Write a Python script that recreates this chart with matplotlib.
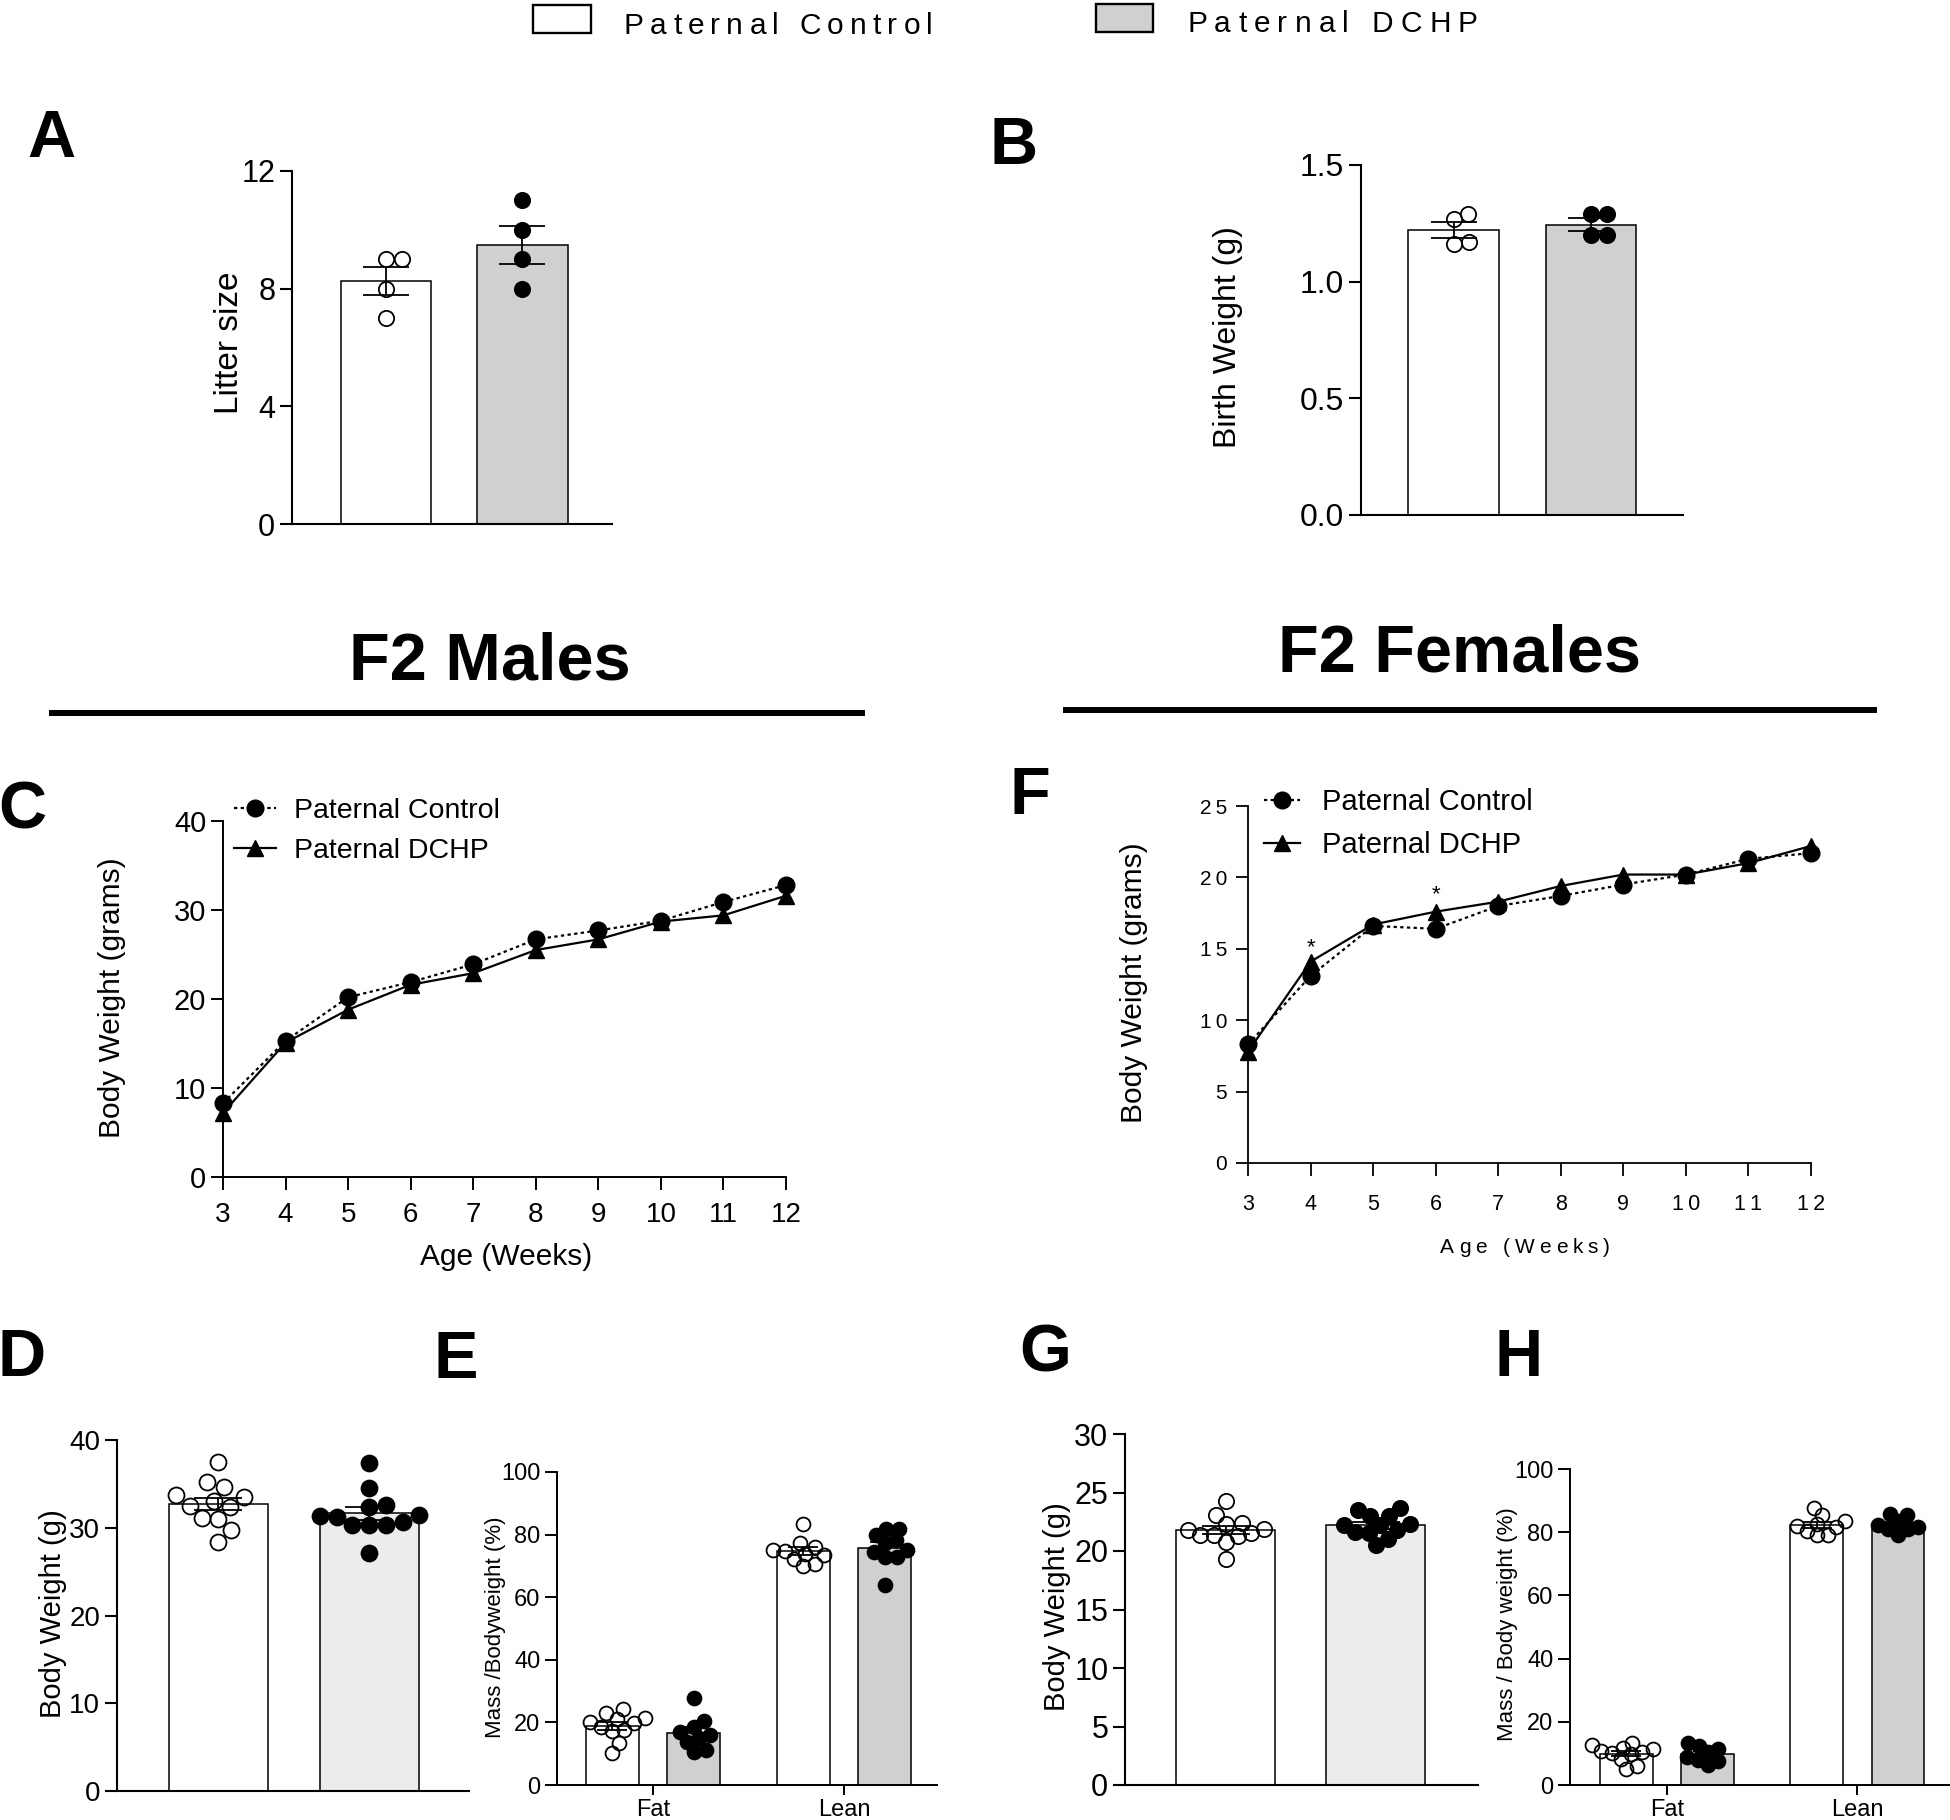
import matplotlib
matplotlib.use("Agg")
import matplotlib.pyplot as plt
from matplotlib.lines import Line2D
from matplotlib.patches import Rectangle
import numpy as np

plt.rcParams['font.family'] = ['Liberation Sans', 'DejaVu Sans']

# ---- data ----
groups = ["Paternal Control", "Paternal DCHP"]

# A: litter size
litter_ctrl = [9, 9, 8, 7]
litter_dchp = [11, 10, 9, 8]

# B: birth weight (g)
birth_ctrl = [1.29, 1.27, 1.17, 1.16]
birth_dchp = [1.29, 1.29, 1.20, 1.20]

# C / F: body weight curves
weeks = [3, 4, 5, 6, 7, 8, 9, 10, 11, 12]
male_ctrl = [8.3, 15.3, 20.2, 21.9, 23.9, 26.7, 27.7, 28.8, 30.9, 32.8]
male_dchp = [7.2, 15.1, 18.8, 21.6, 22.9, 25.5, 26.7, 28.7, 29.4, 31.6]
female_ctrl = [8.3, 13.1, 16.6, 16.4, 18.0, 18.7, 19.5, 20.2, 21.3, 21.7]
female_dchp = [7.8, 14.1, 16.7, 17.6, 18.3, 19.4, 20.2, 20.2, 21.0, 22.2]
star_weeks = [4, 6]
star_y = [15.6, 19.3]

# D / G: final body weight
d_ctrl = [37.5, 35.2, 34.6, 33.5, 33.7, 32.4, 33.0, 32.5, 31.1, 31.0, 29.7, 28.4]
d_dchp = [37.4, 34.5, 32.6, 32.4, 31.3, 31.2, 31.4, 30.7, 30.3, 30.3, 30.3, 27.1]
g_ctrl = [24.3, 23.1, 22.4, 22.3, 21.9, 21.8, 21.5, 21.4, 21.4, 21.3, 20.8, 19.3]
g_dchp = [23.7, 23.5, 23.0, 23.0, 22.3, 22.2, 22.2, 21.8, 21.6, 21.5, 21.0, 20.5]

# E / H: fat and lean mass (% body weight)
comp_labels = ["Fat", "Lean"]
e_fat_ctrl = [24.2, 22.9, 21.3, 21.0, 19.7, 18.6, 20.2, 17.4, 17.6, 13.3, 10.1]
e_fat_dchp = [27.9, 20.4, 18.6, 16.8, 16.0, 14.9, 13.8, 10.6, 11.2]
e_lean_ctrl = [83.3, 77.4, 76.1, 75.0, 74.8, 73.9, 73.4, 72.3, 70.7, 69.9]
e_lean_dchp = [81.9, 81.7, 79.8, 78.2, 77.3, 75.0, 74.5, 72.9, 72.7, 63.8]
h_fat_ctrl = [13.3, 12.6, 11.8, 11.5, 10.9, 10.5, 10.0, 9.7, 8.2, 6.0, 5.1]
h_fat_dchp = [13.2, 12.3, 11.4, 10.3, 9.0, 7.8, 7.6, 6.2]
h_lean_ctrl = [87.7, 85.6, 83.5, 82.6, 82.0, 81.5, 80.5, 79.2, 79.0]
h_lean_dchp = [85.9, 85.3, 83.5, 82.3, 81.5, 80.9, 80.9, 79.2]

GRAY = '#d0d0d0'
LIGHT = '#ececec'

W, H = 1950, 1820
fig = plt.figure(figsize=(W / 100, H / 100), dpi=100)


def make_ax(x0, x1, ytop, ybot):
    return fig.add_axes([x0 / W, 1 - ybot / H, (x1 - x0) / W, (ybot - ytop) / H])


def style(ax, lw=1.5):
    for s in ['top', 'right']:
        ax.spines[s].set_visible(False)
    for s in ['left', 'bottom']:
        ax.spines[s].set_linewidth(lw)
    ax.tick_params(direction='out', width=lw, length=9, pad=3, colors='black')


def put(xc, yc, s, size, **kw):
    # yc = vertical centre of capitals, in image pixels from the top
    base = yc + 0.358 * size * 100 / 72
    fig.text(xc / W, 1 - base / H, s, fontsize=size, ha='center', va='baseline', **kw)


def spaced(xl, xr, yc, s, size):
    # letter-spaced text filling xl..xr
    r = fig.canvas.get_renderer()
    sz = size * 100 / 72
    objs, widths = [], []
    for ch in s:
        if ch == ' ':
            objs.append(None)
            widths.append(0.278 * sz)
        else:
            t = fig.text(0, 0, ch, fontsize=size, ha='left', va='baseline')
            widths.append(t.get_window_extent(r).width)
            objs.append(t)
    gap = ((xr - xl) - sum(widths)) / (len(s) - 1)
    x = xl
    base = yc + 0.358 * sz
    for t, w in zip(objs, widths):
        if t is not None:
            t.set_position((x / W, 1 - base / H))
        x += w + gap


def swarm(ypx, d):
    order = np.argsort(ypx)
    placed = []
    xs = np.zeros(len(ypx))
    for i in order:
        y = ypx[i]
        cands = [0.0]
        for px, py in placed:
            dy = y - py
            if abs(dy) < d:
                dx = np.sqrt(d * d - dy * dy)
                cands += [px + dx, px - dx]
        cands.sort(key=abs)
        for c in cands:
            if all((c - px) ** 2 + (y - py) ** 2 >= d * d - 1e-6 for px, py in placed):
                xs[i] = c
                placed.append((c, y))
                break
    return xs


def label_coords(ax, xc, yc, which):
    pos = ax.get_position()
    x0, x1 = pos.x0 * W, pos.x1 * W
    ytop, ybot = (1 - pos.y1) * H, (1 - pos.y0) * H
    ax_x = (xc - x0) / (x1 - x0)
    ax_y = (ybot - yc) / (ybot - ytop)
    if which == 'y':
        ax.yaxis.set_label_coords(ax_x, ax_y)
    else:
        ax.xaxis.set_label_coords(ax_x, ax_y)


def bar_panel(ax, xpos, sets, fills, xlim, ylim, width, ms, capsize, spacing):
    ax.set_xlim(xlim)
    ax.set_ylim(ylim)
    pos = ax.get_position()
    xppu = pos.width * W / (xlim[1] - xlim[0])
    yppu = pos.height * H / (ylim[1] - ylim[0])
    for k, (x, vals, fill) in enumerate(zip(xpos, sets, fills)):
        vals = np.asarray(vals, dtype=float)
        m = vals.mean()
        sem = vals.std(ddof=1) / np.sqrt(len(vals))
        ax.bar(x, m, width, color=fill, edgecolor='black', linewidth=1.1, zorder=1)
        offs = swarm(vals * yppu, spacing) / xppu
        is_ctrl = (k % 2 == 0)
        ax.plot(x + offs, vals, 'o', ms=ms, mfc='none' if is_ctrl else 'black',
                mec='black', mew=1.3, ls='none', zorder=3, clip_on=False)
        ax.errorbar(x, m, yerr=sem, fmt='none', ecolor='black', elinewidth=1.3,
                    capsize=capsize, capthick=1.3, zorder=4)


# ---- top legend ----
fig.patches.append(Rectangle((533 / W, 1 - 33 / H), 58 / W, 28 / H, transform=fig.transFigure,
                             facecolor='white', edgecolor='black', linewidth=1.7))
fig.patches.append(Rectangle((1096 / W, 1 - 32 / H), 57 / W, 28 / H, transform=fig.transFigure,
                             facecolor=GRAY, edgecolor='black', linewidth=1.7))
spaced(624, 933, 23, groups[0], 21.5)
spaced(1187, 1478, 21, groups[1], 21.5)

# ---- A ----
axA = make_ax(292, 612, 171, 524)
style(axA)
bar_panel(axA, [0, 1], [litter_ctrl, litter_dchp], ['white', GRAY], (-0.689, 1.656), (0, 12),
          0.66, 11, 16.5, 15.5)
axA.set_yticks([0, 4, 8, 12])
axA.set_xticks([])
axA.tick_params(labelsize=22)
axA.set_ylabel("Litter size", fontsize=24, va='center')
label_coords(axA, 229, 343, 'y')

# ---- B ----
axB = make_ax(1361, 1683, 165, 515)
style(axB)
bar_panel(axB, [0, 1], [birth_ctrl, birth_dchp], ['white', GRAY], (-0.673, 1.669), (0, 1.5),
          0.66, 11, 16.5, 15.5)
axB.set_yticks([0, 0.5, 1.0, 1.5], ['0.0', '0.5', '1.0', '1.5'])
axB.set_xticks([])
axB.tick_params(labelsize=23)
axB.set_ylabel("Birth Weight (g)", fontsize=23, va='center')
label_coords(axB, 1228, 337, 'y')

# ---- section titles ----
put(490, 656, "F2 Males", 48, fontweight='bold')
put(1460, 648, "F2 Females", 48, fontweight='bold')
fig.lines.append(Line2D([52 / W, 862 / W], [1 - 713 / H, 1 - 713 / H], transform=fig.transFigure,
                        color='black', linewidth=4.3))
fig.lines.append(Line2D([1066 / W, 1874 / W], [1 - 710 / H, 1 - 710 / H], transform=fig.transFigure,
                        color='black', linewidth=4.3))

# ---- C ----
axC = make_ax(223, 786, 821, 1177)
style(axC, 1.4)
axC.plot(weeks, male_ctrl, color='black', ls=(0, (1.5, 1.5)), lw=1.6, marker='o', ms=12,
         label=groups[0], clip_on=False, zorder=3)
axC.plot(weeks, male_dchp, color='black', ls='-', lw=1.6, marker='^', ms=12,
         label=groups[1], clip_on=False, zorder=3)
axC.set_xlim(3, 12)
axC.set_ylim(0, 40)
axC.set_xticks(weeks)
axC.set_yticks([0, 10, 20, 30, 40])
axC.tick_params(axis='y', labelsize=21, length=9, pad=3)
axC.tick_params(axis='x', labelsize=20, length=9, pad=9)
axC.set_ylabel("Body Weight (grams)", fontsize=21.5, va='center')
label_coords(axC, 112, 998, 'y')
axC.set_xlabel("Age (Weeks)", fontsize=21.5, va='center')
label_coords(axC, 506, 1257, 'x')
axC.legend(loc='upper left', bbox_to_anchor=(0.02, 1.065), frameon=False, fontsize=20.5,
           handlelength=1.45, handletextpad=0.65, borderpad=0, borderaxespad=0, labelspacing=0.5)

# ---- F ----
axF = make_ax(1248, 1811, 806, 1163)
style(axF, 1.3)
axF.plot(weeks, female_ctrl, color='black', ls=(0, (1.5, 1.5)), lw=1.6, marker='o', ms=12,
         label=groups[0], clip_on=False, zorder=3)
axF.plot(weeks, female_dchp, color='black', ls='-', lw=1.6, marker='^', ms=12,
         label=groups[1], clip_on=False, zorder=3)
for wk, sy in zip(star_weeks, star_y):
    axF.annotate('*', (wk, sy), xytext=(0, -9.4), textcoords='offset points',
                 ha='center', va='baseline', fontsize=16)
axF.set_xlim(3, 12)
axF.set_ylim(0, 25)
axF.set_xticks(weeks, ['\u2009'.join(str(w)) for w in weeks])
yt = [0, 5, 10, 15, 20, 25]
axF.set_yticks(yt, ['\u2009'.join(str(v)) for v in yt])
axF.tick_params(axis='y', labelsize=15, length=9, pad=6)
axF.tick_params(axis='x', labelsize=15.5, length=9.5, pad=13)
axF.set_ylabel("Body Weight (grams)", fontsize=21.5, va='center')
label_coords(axF, 1134, 983, 'y')
spaced(1440, 1610, 1246, "Age (Weeks)", 15)
axF.legend(loc='upper left', bbox_to_anchor=(0.028, 1.05), frameon=False, fontsize=21,
           handlelength=1.25, handletextpad=0.75, borderpad=0, borderaxespad=0, labelspacing=0.5)

# ---- D ----
axD = make_ax(117, 469, 1440, 1791)
style(axD)
bar_panel(axD, [0, 1], [d_ctrl, d_dchp], ['white', LIGHT], (-0.672, 1.659), (0, 40),
          0.656, 11.5, 17, 17)
axD.set_yticks([0, 10, 20, 30, 40])
axD.set_xticks([])
axD.tick_params(labelsize=20)
axD.set_ylabel("Body Weight (g)", fontsize=21, va='center')
label_coords(axD, 53, 1614, 'y')

# ---- E ----
axE = make_ax(557, 937, 1472, 1785)
style(axE, 1.4)
bar_panel(axE, [-0.213, 0.213, 0.787, 1.213],
          [e_fat_ctrl, e_fat_dchp, e_lean_ctrl, e_lean_dchp],
          ['white', GRAY, 'white', GRAY], (-0.503, 1.487), (0, 100), 0.278, 10, 11, 12)
axE.set_yticks([0, 20, 40, 60, 80, 100])
axE.set_xticks([0, 1], comp_labels)
axE.tick_params(axis='y', labelsize=17)
axE.tick_params(axis='x', labelsize=17, length=7, pad=3)
axE.set_ylabel("Mass /Bodyweight (%)", fontsize=16, va='center')
label_coords(axE, 495, 1627, 'y')

# ---- G ----
axG = make_ax(1125, 1478, 1434, 1785)
style(axG)
bar_panel(axG, [0, 1], [g_ctrl, g_dchp], ['white', LIGHT], (-0.67, 1.683), (0, 30),
          0.66, 11, 17, 13.5)
axG.set_yticks([0, 5, 10, 15, 20, 25, 30])
axG.set_xticks([])
axG.tick_params(labelsize=22)
axG.set_ylabel("Body Weight (g)", fontsize=21, va='center')
label_coords(axG, 1057, 1607, 'y')

# ---- H ----
axH = make_ax(1570, 1950, 1469, 1785)
style(axH, 1.4)
bar_panel(axH, [-0.213, 0.213, 0.787, 1.213],
          [h_fat_ctrl, h_fat_dchp, h_lean_ctrl, h_lean_dchp],
          ['white', GRAY, 'white', GRAY], (-0.509, 1.486), (0, 100), 0.278, 10, 11, 11)
axH.set_yticks([0, 20, 40, 60, 80, 100])
axH.set_xticks([0, 1], comp_labels)
axH.tick_params(axis='y', labelsize=17)
axH.tick_params(axis='x', labelsize=17, length=7, pad=3)
axH.set_ylabel("Mass / Body weight (%)", fontsize=16, va='center')
label_coords(axH, 1508, 1624, 'y')

# ---- panel letters ----
for letter, xc, yc in [('A', 51, 133), ('B', 1014, 140), ('C', 22, 805), ('F', 1030, 790),
                       ('D', 22, 1352), ('E', 456, 1354), ('G', 1045, 1348), ('H', 1519, 1352)]:
    put(xc, yc, letter, 48, fontweight='bold')

fig.savefig("out.png", dpi=100)
